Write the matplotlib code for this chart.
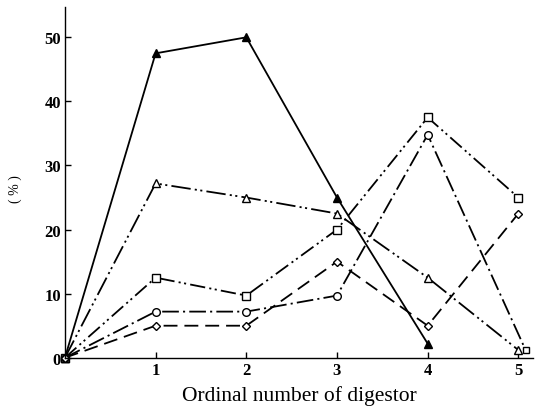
import matplotlib
matplotlib.use("Agg")
import matplotlib.pyplot as plt

plt.rcParams['font.family'] = ['Liberation Serif', 'DejaVu Serif']
plt.rcParams['lines.scale_dashes'] = False

x = [0, 1, 2, 3, 4, 5]
filled_tri = [0, 47.5, 50, 25, 2.2]
open_tri = [0, 27.2, 25, 22.5, 12.5, 1.2]
square = [0, 12.5, 9.7, 20, 37.5, 25]
circle_x = [0, 1, 2, 3, 4, 5.08]
circle = [0, 7.2, 7.2, 9.7, 34.8, 1.2]
diamond = [0, 5, 5, 15, 5, 22.5]
xticks = [1, 2, 3, 4, 5]
yticks = [0, 10, 20, 30, 40, 50]

fig = plt.figure(figsize=(5.41, 4.10), dpi=100)
ax = fig.add_axes([0.12, 0.125, 0.865, 0.855])

lw = 1.3
ms = 5.5
common = dict(color='black', lw=lw, ms=ms, mec='black', mew=1.0, clip_on=False)
ax.plot(x[:len(filled_tri)], filled_tri, marker='^', mfc='black', ls='-', **common)
ax.plot(x, open_tri, marker='^', mfc='white', dashes=[14, 3, 1.5, 2.5, 1.5, 3], **common)
ax.plot(x, square, marker='s', mfc='white', dashes=[11, 3, 1.5, 2.5, 1.5, 3], **common)
ax.plot(circle_x, circle, marker='o', mfc='white', markevery=[0, 1, 2, 3, 4],
        dashes=[12, 3, 1.5, 3], **common)
ax.plot(circle_x[-1:], circle[-1:], marker='s', mfc='white', ls='none',
        color='black', ms=ms - 0.5, mec='black', mew=1.0, clip_on=False)
ax.plot(x, diamond, marker='D', mfc='white', dashes=[10, 5], color='black', lw=lw,
        ms=ms - 1, mec='black', mew=1.0, clip_on=False)

ax.set_xlim(0, 5.16)
ax.set_ylim(0, 54.7)
ax.set_xticks(xticks)
ax.set_yticks(yticks)
ax.tick_params(direction='in', length=4, width=1, labelsize=12, pad=3)
for lab in ax.get_xticklabels() + ax.get_yticklabels():
    lab.set_fontweight('bold')
for s in ['top', 'right']:
    ax.spines[s].set_visible(False)
for s in ['left', 'bottom']:
    ax.spines[s].set_linewidth(1.0)

ax.set_xlabel('Ordinal number of digestor', fontsize=15.5, labelpad=5)
fig.text(0.028, 0.54, '( % )', rotation=90, fontsize=10, ha='center', va='center')

fig.savefig('out.png', dpi=100)
